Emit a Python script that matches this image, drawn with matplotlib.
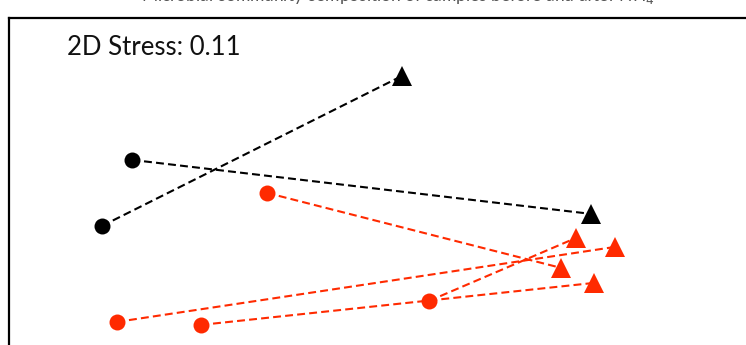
import matplotlib
matplotlib.use("Agg")
import matplotlib.pyplot as plt

plt.rcParams['font.family'] = ['Lato', 'DejaVu Sans']

# NMDS coordinates, before (circle) -> after (triangle) for each sample
black_before_x = [-0.76, -0.86]
black_before_y = [0.10, -0.12]
black_after_x = [0.77, 0.14]
black_after_y = [-0.08, 0.38]

red_before_x = [-0.31, -0.81, -0.53, 0.23]
red_before_y = [-0.01, -0.44, -0.45, -0.37]
red_after_x = [0.67, 0.85, 0.78, 0.72]
red_after_y = [-0.26, -0.19, -0.31, -0.16]

stress = 0.11
title = "Microbial community composition of samples before and after NH$_4$"

BLACK = "#000000"
RED = "#ff2a00"

fig = plt.figure(figsize=(7.46, 3.45), dpi=100)
W, H = 746, 345
# axes frame is cropped on right and bottom
ax = fig.add_axes([9 / W, -15 / H, (760 - 9) / W, (360 - 18) / H])
ax.set_xlim(-1.17, 1.333)
ax.set_ylim(-0.567, 0.573)


def draw_group(bx, by, axx, ay, color):
    for x0, y0, x1, y1 in zip(bx, by, axx, ay):
        ax.plot([x0, x1], [y0, y1], linestyle=(0, (3.8, 2.0)), color=color,
                linewidth=1.5, zorder=1)
    ax.plot(bx, by, 'o', color=color, markersize=11.5, markeredgewidth=0, zorder=3)
    ax.plot(axx, ay, '^', color=color, markersize=14, markeredgewidth=0, zorder=3)


draw_group(black_before_x, black_before_y, black_after_x, black_after_y, BLACK)
draw_group(red_before_x, red_before_y, red_after_x, red_after_y, RED)

ax.text(0.077, 0.915, "2D Stress: %.2f" % stress, transform=ax.transAxes,
        fontsize=18.5, color="#111111", va='center', ha='left')

ax.set_xticks([])
ax.set_yticks([])
for s in ax.spines.values():
    s.set_linewidth(1.6)

# title sits mostly above the cropped top edge, as in the source figure
fig.text(398 / W, 1 - 1.5 / H, title, ha='center', va='baseline',
         fontsize=12.5, color="#555555")

fig.savefig("out.png", dpi=100)
